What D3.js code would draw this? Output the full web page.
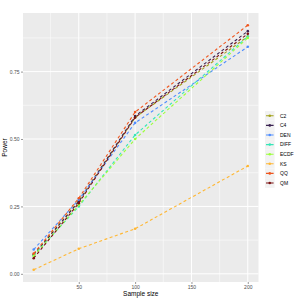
<!DOCTYPE html>
<html>
<head>
<meta charset="UTF-8">
<title>Power vs sample size</title>
<script src="https://d3js.org/d3.v7.min.js"></script>
<style>
body { margin: 0; background: #fff; }
text { font-family: "Liberation Sans", Arial, sans-serif; }
</style>
</head>
<body>
<svg id="chart"></svg>
<script type="text/javascript">
// sample sizes
var sizes = [10, 50, 100, 200];
var methods = ["C2", "C4", "DEN", "DIFF", "ECDF", "KS", "QQ", "QM"];
var colors = ["#a3a21a", "#3b2352", "#4f8dff", "#36e6b8", "#9cff3a", "#ffb733", "#ef561e", "#7b1111"];

// power per method, one value per sample size
var powC2 = [0.072, 0.270, 0.580, 0.880];
var powC4 = [0.070, 0.268, 0.585, 0.900];
var powDEN = [0.090, 0.275, 0.560, 0.842];
var powDIFF = [0.068, 0.250, 0.515, 0.880];
var powECDF = [0.066, 0.255, 0.500, 0.875];
var powKS = [0.015, 0.093, 0.167, 0.400];
var powQQ = [0.075, 0.280, 0.600, 0.922];
var powQM = [0.058, 0.262, 0.580, 0.890];

var xTicks = [50, 100, 150, 200];
var yTicks = [0, 0.25, 0.5, 0.75];

var series = [powC2, powC4, powDEN, powDIFF, powECDF, powKS, powQQ, powQM].map(function(v, i)
{
	return { name: methods[i], color: colors[i], values: v.map(function(p, j) { return { x: sizes[j], y: p }; }) };
});

var W = 300, H = 300;
var panel = { left: 23, right: 258.5, top: 13, bottom: 282 };

var svg = d3.select("#chart").attr("width", W).attr("height", H);

// ggplot-like 5% expansion
var xr = d3.extent(sizes), xpad = (xr[1] - xr[0]) * 0.05;
var allY = [].concat.apply([], series.map(function(s) { return s.values.map(function(d) { return d.y; }); }));
var yr = d3.extent(allY), ypad = (yr[1] - yr[0]) * 0.05;

var x = d3.scaleLinear().domain([xr[0] - xpad, xr[1] + xpad]).range([panel.left, panel.right]);
var y = d3.scaleLinear().domain([yr[0] - ypad, yr[1] + ypad]).range([panel.bottom, panel.top]);

svg.append("rect")
	.attr("x", panel.left).attr("y", panel.top)
	.attr("width", panel.right - panel.left).attr("height", panel.bottom - panel.top)
	.attr("fill", "#ebebeb");

var grid = svg.append("g");
var xMinor = [25, 75, 125, 175];
var yMinor = [0.125, 0.375, 0.625, 0.875];

grid.selectAll("line.xminor").data(xMinor).enter().append("line")
	.attr("x1", x).attr("x2", x).attr("y1", panel.top).attr("y2", panel.bottom)
	.attr("stroke", "#fff").attr("stroke-width", 0.5);
grid.selectAll("line.yminor").data(yMinor).enter().append("line")
	.attr("y1", y).attr("y2", y).attr("x1", panel.left).attr("x2", panel.right)
	.attr("stroke", "#fff").attr("stroke-width", 0.5);
grid.selectAll("line.xmajor").data(xTicks).enter().append("line")
	.attr("x1", x).attr("x2", x).attr("y1", panel.top).attr("y2", panel.bottom)
	.attr("stroke", "#fff").attr("stroke-width", 1);
grid.selectAll("line.ymajor").data(yTicks).enter().append("line")
	.attr("y1", y).attr("y2", y).attr("x1", panel.left).attr("x2", panel.right)
	.attr("stroke", "#fff").attr("stroke-width", 1);

// axes
var xAxis = d3.axisBottom(x).tickValues(xTicks).tickSize(2).tickPadding(1.5).tickFormat(d3.format("d"));
var yAxis = d3.axisLeft(y).tickValues(yTicks).tickSize(2).tickPadding(1.5).tickFormat(d3.format(".2f"));

var gx = svg.append("g").attr("transform", "translate(0," + panel.bottom + ")").call(xAxis);
var gy = svg.append("g").attr("transform", "translate(" + panel.left + ",0)").call(yAxis);
[gx, gy].forEach(function(g)
{
	g.select(".domain").remove();
	g.selectAll(".tick line").attr("stroke", "#333").attr("stroke-width", 0.5);
	g.selectAll(".tick text").attr("fill", "#4d4d4d").style("font-size", "5px");
});

svg.append("text").attr("x", (panel.left + panel.right) / 2).attr("y", 296)
	.attr("text-anchor", "middle").style("font-size", "6.5px").text("Sample size");
svg.append("text").attr("transform", "translate(7," + ((panel.top + panel.bottom) / 2) + ") rotate(-90)")
	.attr("text-anchor", "middle").style("font-size", "6.5px").text("Power");

// lines
var line = d3.line().x(function(d) { return x(d.x); }).y(function(d) { return y(d.y); });

var gs = svg.selectAll("g.series").data(series).enter().append("g").classed("series", true);
gs.append("path")
	.attr("d", function(d) { return line(d.values); })
	.attr("fill", "none").attr("stroke", function(d) { return d.color; })
	.attr("stroke-width", 1.1).attr("stroke-dasharray", "3,2.5");
gs.selectAll("circle").data(function(d) { return d.values.map(function(v) { return { x: v.x, y: v.y, color: d.color }; }); })
	.enter().append("circle")
	.attr("cx", function(d) { return x(d.x); }).attr("cy", function(d) { return y(d.y); })
	.attr("r", 1.3).attr("fill", function(d) { return d.color; });

// legend
var legend = svg.append("g").attr("transform", "translate(265,111)");
var li = legend.selectAll("g").data(series).enter().append("g")
	.attr("transform", function(d, i) { return "translate(0," + (i * 9.6) + ")"; });
li.append("rect").attr("x", 0).attr("y", 0).attr("width", 9.6).attr("height", 9.6).attr("fill", "#f2f2f2");
li.append("line").attr("x1", 1).attr("x2", 8.6).attr("y1", 4.8).attr("y2", 4.8)
	.attr("stroke", function(d) { return d.color; }).attr("stroke-width", 1.1).attr("stroke-dasharray", "3,1.6");
li.append("circle").attr("cx", 4.8).attr("cy", 4.8).attr("r", 1.3).attr("fill", function(d) { return d.color; });
li.append("text").attr("x", 15).attr("y", 6.6).style("font-size", "5px").attr("fill", "#000")
	.text(function(d) { return d.name; });
</script>
</body>
</html>
